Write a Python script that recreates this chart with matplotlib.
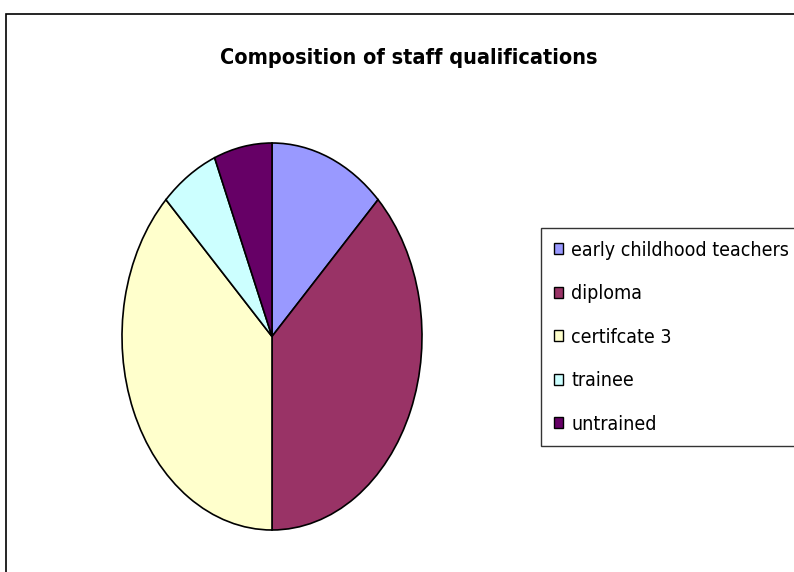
import matplotlib
matplotlib.use("Agg")
import matplotlib.pyplot as plt
from matplotlib.patches import Rectangle, Patch

labels = ["early childhood teachers", "diploma", "certifcate 3", "trainee", "untrained"]
staff = [2, 6, 6, 1, 1]
colors = ["#9999ff", "#993366", "#ffffcc", "#ccffff", "#660066"]

# the source uses a narrow Arial look; condensed DejaVu is the closest installed
plt.rcParams["font.family"] = ["DejaVu Sans"]
plt.rcParams["font.stretch"] = "condensed"

fig = plt.figure(figsize=(7.94, 5.72), dpi=100)

# outer chart frame, cut off at right and bottom like the original
fig.patches.append(Rectangle((6 / 794, -0.1), 1.2, 1 - 14 / 572 + 0.1,
                             transform=fig.transFigure, fill=False,
                             edgecolor="black", linewidth=1.2))

fig.text(409 / 794, 1 - 58 / 572, "Composition of staff qualifications",
         ha="center", va="center", fontsize=15.5, fontweight="bold",
         fontstretch="condensed")

# stretched pie (ellipse) like the source chart
ax = fig.add_axes([122 / 794, 1 - 530 / 572, 300 / 794, 387 / 572])
wedges, _ = ax.pie(staff, colors=colors, startangle=90, counterclock=False,
                   wedgeprops=dict(edgecolor="black", linewidth=1.2))
ax.set_aspect("auto")
ax.set_xlim(-1, 1)
ax.set_ylim(-1, 1)
ax.axis("off")

# legend box runs off the right edge in the original
handles = [Patch(facecolor=c, edgecolor="black", linewidth=1) for c in colors]
leg = fig.legend(handles, labels, loc="upper left", mode="expand",
                 bbox_to_anchor=(541 / 794, 1 - 447 / 572, 0.4, 219 / 572),
                 prop=dict(size=14, stretch="condensed"),
                 frameon=True, fancybox=False, edgecolor="black",
                 handlelength=0.5, handleheight=0.5, handletextpad=0.4,
                 labelspacing=1.26, borderpad=0.65, borderaxespad=0)
leg.get_frame().set_linewidth(1)

fig.savefig("out.png", dpi=100)
